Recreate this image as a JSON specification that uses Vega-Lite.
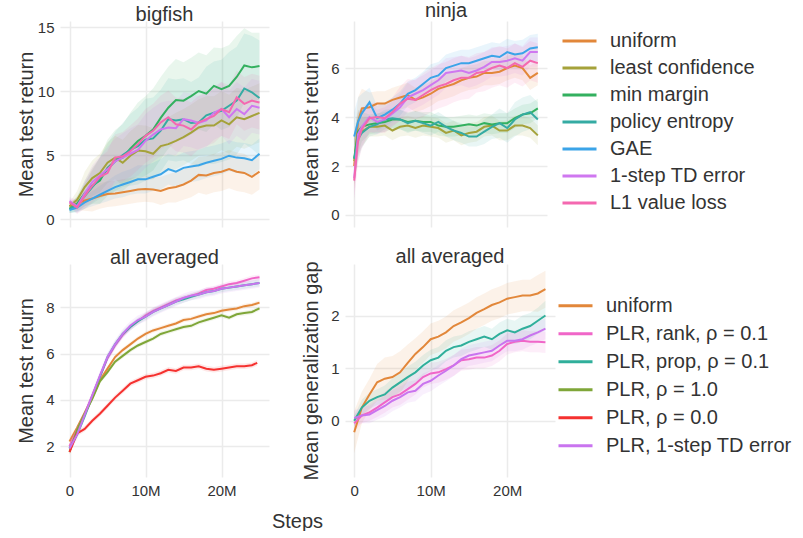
{
"$schema":"https://vega.github.io/schema/vega-lite/v6.json",
"padding":{"left":16,"top":1,"right":0,"bottom":0},
"config":{
 "font":"Liberation Sans",
 "view":{"stroke":null},
 "axis":{"grid":true,"gridColor":"#EBEBEB","gridWidth":1.5,"domain":false,"ticks":false,"labelFontSize":15,"labelColor":"#333","titleFontSize":20,"titleColor":"#333","titleFontWeight":"normal","labelPadding":6},
 "axisY":{"minExtent":24,"maxExtent":24,"titlePadding":0},
 "title":{"fontSize":20,"fontWeight":"normal","color":"#333","baseline":"alphabetic"},
 "legend":{"labelFontSize":20,"labelColor":"#333","symbolType":"stroke","symbolStrokeWidth":3,"symbolSize":1156,"labelOffset":12,"rowPadding":0,"padding":0,"labelLimit":300}
},
"data":{"values":[
{"p":"bigfish","s":"uniform","x":0,"y":1.0,"lo":0.7,"hi":1.3},
{"p":"bigfish","s":"uniform","x":1,"y":1.2,"lo":0.7,"hi":1.7},
{"p":"bigfish","s":"uniform","x":2,"y":1.45,"lo":0.65,"hi":2.25},
{"p":"bigfish","s":"uniform","x":3,"y":1.6,"lo":0.6,"hi":2.6},
{"p":"bigfish","s":"uniform","x":4,"y":1.8,"lo":0.8,"hi":2.8},
{"p":"bigfish","s":"uniform","x":5,"y":1.95,"lo":0.95,"hi":2.95},
{"p":"bigfish","s":"uniform","x":6,"y":2.0,"lo":1.0,"hi":3.0},
{"p":"bigfish","s":"uniform","x":7,"y":2.1,"lo":1.1,"hi":3.1},
{"p":"bigfish","s":"uniform","x":8,"y":2.2,"lo":1.2,"hi":3.2},
{"p":"bigfish","s":"uniform","x":9,"y":2.3,"lo":1.3,"hi":3.3},
{"p":"bigfish","s":"uniform","x":10,"y":2.35,"lo":1.35,"hi":3.35},
{"p":"bigfish","s":"uniform","x":11,"y":2.3,"lo":1.3,"hi":3.3},
{"p":"bigfish","s":"uniform","x":12,"y":2.2,"lo":1.1,"hi":3.3},
{"p":"bigfish","s":"uniform","x":13,"y":2.4,"lo":1.3,"hi":3.5},
{"p":"bigfish","s":"uniform","x":14,"y":2.5,"lo":1.3,"hi":3.7},
{"p":"bigfish","s":"uniform","x":15,"y":2.7,"lo":1.5,"hi":3.9},
{"p":"bigfish","s":"uniform","x":16,"y":3.0,"lo":1.7,"hi":4.3},
{"p":"bigfish","s":"uniform","x":17,"y":3.45,"lo":2.05,"hi":4.85},
{"p":"bigfish","s":"uniform","x":18,"y":3.4,"lo":1.9,"hi":4.9},
{"p":"bigfish","s":"uniform","x":19,"y":3.6,"lo":2.1,"hi":5.1},
{"p":"bigfish","s":"uniform","x":20,"y":3.7,"lo":2.2,"hi":5.2},
{"p":"bigfish","s":"uniform","x":21,"y":3.9,"lo":2.4,"hi":5.4},
{"p":"bigfish","s":"uniform","x":22,"y":3.7,"lo":2.2,"hi":5.2},
{"p":"bigfish","s":"uniform","x":23,"y":3.6,"lo":2.1,"hi":5.1},
{"p":"bigfish","s":"uniform","x":24,"y":3.3,"lo":1.9,"hi":4.7},
{"p":"bigfish","s":"uniform","x":25,"y":3.7,"lo":2.3,"hi":5.1},
{"p":"bigfish","s":"least confidence","x":0,"y":1.0,"lo":0.7,"hi":1.3},
{"p":"bigfish","s":"least confidence","x":1,"y":1.5,"lo":0.8,"hi":2.2},
{"p":"bigfish","s":"least confidence","x":2,"y":2.5,"lo":1.3,"hi":3.7},
{"p":"bigfish","s":"least confidence","x":3,"y":3.2,"lo":1.8,"hi":4.6},
{"p":"bigfish","s":"least confidence","x":4,"y":3.6,"lo":2.1,"hi":5.1},
{"p":"bigfish","s":"least confidence","x":5,"y":4.4,"lo":2.8,"hi":6.0},
{"p":"bigfish","s":"least confidence","x":6,"y":4.8,"lo":3.1,"hi":6.5},
{"p":"bigfish","s":"least confidence","x":7,"y":4.4,"lo":2.6,"hi":6.2},
{"p":"bigfish","s":"least confidence","x":8,"y":4.95,"lo":3.05,"hi":6.85},
{"p":"bigfish","s":"least confidence","x":9,"y":5.35,"lo":3.35,"hi":7.35},
{"p":"bigfish","s":"least confidence","x":10,"y":5.3,"lo":3.3,"hi":7.3},
{"p":"bigfish","s":"least confidence","x":11,"y":5.1,"lo":3.1,"hi":7.1},
{"p":"bigfish","s":"least confidence","x":12,"y":5.7,"lo":3.6,"hi":7.8},
{"p":"bigfish","s":"least confidence","x":13,"y":5.85,"lo":3.75,"hi":7.95},
{"p":"bigfish","s":"least confidence","x":14,"y":6.1,"lo":3.9,"hi":8.3},
{"p":"bigfish","s":"least confidence","x":15,"y":6.4,"lo":4.2,"hi":8.6},
{"p":"bigfish","s":"least confidence","x":16,"y":6.75,"lo":4.55,"hi":8.95},
{"p":"bigfish","s":"least confidence","x":17,"y":7.15,"lo":4.95,"hi":9.35},
{"p":"bigfish","s":"least confidence","x":18,"y":7.3,"lo":5.0,"hi":9.6},
{"p":"bigfish","s":"least confidence","x":19,"y":7.3,"lo":5.0,"hi":9.6},
{"p":"bigfish","s":"least confidence","x":20,"y":7.7,"lo":5.4,"hi":10.0},
{"p":"bigfish","s":"least confidence","x":21,"y":7.4,"lo":5.1,"hi":9.7},
{"p":"bigfish","s":"least confidence","x":22,"y":7.95,"lo":5.65,"hi":10.25},
{"p":"bigfish","s":"least confidence","x":23,"y":7.8,"lo":5.5,"hi":10.1},
{"p":"bigfish","s":"least confidence","x":24,"y":8.05,"lo":5.75,"hi":10.35},
{"p":"bigfish","s":"least confidence","x":25,"y":8.3,"lo":6.0,"hi":10.6},
{"p":"bigfish","s":"min margin","x":0,"y":0.8,"lo":0.5,"hi":1.1},
{"p":"bigfish","s":"min margin","x":1,"y":1.2,"lo":0.6,"hi":1.8},
{"p":"bigfish","s":"min margin","x":2,"y":2.0,"lo":1.0,"hi":3.0},
{"p":"bigfish","s":"min margin","x":3,"y":2.6,"lo":1.2,"hi":4.0},
{"p":"bigfish","s":"min margin","x":4,"y":3.0,"lo":1.2,"hi":4.8},
{"p":"bigfish","s":"min margin","x":5,"y":4.0,"lo":1.8,"hi":6.2},
{"p":"bigfish","s":"min margin","x":6,"y":4.55,"lo":2.15,"hi":6.95},
{"p":"bigfish","s":"min margin","x":7,"y":4.8,"lo":2.2,"hi":7.4},
{"p":"bigfish","s":"min margin","x":8,"y":5.5,"lo":2.7,"hi":8.3},
{"p":"bigfish","s":"min margin","x":9,"y":6.1,"lo":3.1,"hi":9.1},
{"p":"bigfish","s":"min margin","x":10,"y":6.5,"lo":3.4,"hi":9.6},
{"p":"bigfish","s":"min margin","x":11,"y":7.0,"lo":3.8,"hi":10.2},
{"p":"bigfish","s":"min margin","x":12,"y":7.9,"lo":4.7,"hi":11.1},
{"p":"bigfish","s":"min margin","x":13,"y":8.7,"lo":5.5,"hi":11.9},
{"p":"bigfish","s":"min margin","x":14,"y":9.3,"lo":6.1,"hi":12.5},
{"p":"bigfish","s":"min margin","x":15,"y":9.25,"lo":6.25,"hi":12.25},
{"p":"bigfish","s":"min margin","x":16,"y":9.6,"lo":6.6,"hi":12.6},
{"p":"bigfish","s":"min margin","x":17,"y":10.0,"lo":7.0,"hi":13.0},
{"p":"bigfish","s":"min margin","x":18,"y":9.8,"lo":6.8,"hi":12.8},
{"p":"bigfish","s":"min margin","x":19,"y":10.4,"lo":7.4,"hi":13.4},
{"p":"bigfish","s":"min margin","x":20,"y":10.15,"lo":6.95,"hi":13.35},
{"p":"bigfish","s":"min margin","x":21,"y":10.4,"lo":7.2,"hi":13.6},
{"p":"bigfish","s":"min margin","x":22,"y":11.1,"lo":7.9,"hi":14.3},
{"p":"bigfish","s":"min margin","x":23,"y":12.0,"lo":9.1,"hi":14.9},
{"p":"bigfish","s":"min margin","x":24,"y":11.85,"lo":9.15,"hi":14.55},
{"p":"bigfish","s":"min margin","x":25,"y":11.95,"lo":9.35,"hi":14.55},
{"p":"bigfish","s":"policy entropy","x":0,"y":0.8,"lo":0.5,"hi":1.1},
{"p":"bigfish","s":"policy entropy","x":1,"y":1.1,"lo":0.5,"hi":1.7},
{"p":"bigfish","s":"policy entropy","x":2,"y":1.8,"lo":0.8,"hi":2.8},
{"p":"bigfish","s":"policy entropy","x":3,"y":2.5,"lo":1.2,"hi":3.8},
{"p":"bigfish","s":"policy entropy","x":4,"y":3.2,"lo":1.6,"hi":4.8},
{"p":"bigfish","s":"policy entropy","x":5,"y":3.9,"lo":1.9,"hi":5.9},
{"p":"bigfish","s":"policy entropy","x":6,"y":4.5,"lo":2.2,"hi":6.8},
{"p":"bigfish","s":"policy entropy","x":7,"y":5.0,"lo":2.5,"hi":7.5},
{"p":"bigfish","s":"policy entropy","x":8,"y":5.4,"lo":2.6,"hi":8.2},
{"p":"bigfish","s":"policy entropy","x":9,"y":5.7,"lo":2.7,"hi":8.7},
{"p":"bigfish","s":"policy entropy","x":10,"y":6.2,"lo":3.0,"hi":9.4},
{"p":"bigfish","s":"policy entropy","x":11,"y":6.3,"lo":3.1,"hi":9.5},
{"p":"bigfish","s":"policy entropy","x":12,"y":6.9,"lo":3.7,"hi":10.1},
{"p":"bigfish","s":"policy entropy","x":13,"y":7.8,"lo":4.6,"hi":11.0},
{"p":"bigfish","s":"policy entropy","x":14,"y":7.7,"lo":4.5,"hi":10.9},
{"p":"bigfish","s":"policy entropy","x":15,"y":7.8,"lo":4.6,"hi":11.0},
{"p":"bigfish","s":"policy entropy","x":16,"y":7.5,"lo":4.3,"hi":10.7},
{"p":"bigfish","s":"policy entropy","x":17,"y":7.55,"lo":4.05,"hi":11.05},
{"p":"bigfish","s":"policy entropy","x":18,"y":8.1,"lo":4.3,"hi":11.9},
{"p":"bigfish","s":"policy entropy","x":19,"y":8.3,"lo":4.3,"hi":12.3},
{"p":"bigfish","s":"policy entropy","x":20,"y":8.45,"lo":4.45,"hi":12.45},
{"p":"bigfish","s":"policy entropy","x":21,"y":8.85,"lo":4.65,"hi":13.05},
{"p":"bigfish","s":"policy entropy","x":22,"y":9.25,"lo":5.05,"hi":13.45},
{"p":"bigfish","s":"policy entropy","x":23,"y":10.2,"lo":5.9,"hi":14.5},
{"p":"bigfish","s":"policy entropy","x":24,"y":9.9,"lo":5.5,"hi":14.3},
{"p":"bigfish","s":"policy entropy","x":25,"y":9.45,"lo":4.95,"hi":13.95},
{"p":"bigfish","s":"GAE","x":0,"y":0.7,"lo":0.5,"hi":0.9},
{"p":"bigfish","s":"GAE","x":1,"y":0.9,"lo":0.6,"hi":1.2},
{"p":"bigfish","s":"GAE","x":2,"y":1.3,"lo":0.8,"hi":1.8},
{"p":"bigfish","s":"GAE","x":3,"y":1.6,"lo":1.0,"hi":2.2},
{"p":"bigfish","s":"GAE","x":4,"y":1.9,"lo":1.2,"hi":2.6},
{"p":"bigfish","s":"GAE","x":5,"y":2.2,"lo":1.4,"hi":3.0},
{"p":"bigfish","s":"GAE","x":6,"y":2.5,"lo":1.6,"hi":3.4},
{"p":"bigfish","s":"GAE","x":7,"y":2.7,"lo":1.7,"hi":3.7},
{"p":"bigfish","s":"GAE","x":8,"y":2.9,"lo":1.9,"hi":3.9},
{"p":"bigfish","s":"GAE","x":9,"y":3.1,"lo":2.0,"hi":4.2},
{"p":"bigfish","s":"GAE","x":10,"y":3.1,"lo":2.0,"hi":4.2},
{"p":"bigfish","s":"GAE","x":11,"y":3.3,"lo":2.2,"hi":4.4},
{"p":"bigfish","s":"GAE","x":12,"y":3.5,"lo":2.3,"hi":4.7},
{"p":"bigfish","s":"GAE","x":13,"y":3.9,"lo":2.7,"hi":5.1},
{"p":"bigfish","s":"GAE","x":14,"y":3.7,"lo":2.5,"hi":4.9},
{"p":"bigfish","s":"GAE","x":15,"y":4.0,"lo":2.8,"hi":5.2},
{"p":"bigfish","s":"GAE","x":16,"y":4.1,"lo":2.9,"hi":5.3},
{"p":"bigfish","s":"GAE","x":17,"y":4.2,"lo":3.0,"hi":5.4},
{"p":"bigfish","s":"GAE","x":18,"y":4.4,"lo":3.2,"hi":5.6},
{"p":"bigfish","s":"GAE","x":19,"y":4.55,"lo":3.35,"hi":5.75},
{"p":"bigfish","s":"GAE","x":20,"y":4.7,"lo":3.5,"hi":5.9},
{"p":"bigfish","s":"GAE","x":21,"y":4.95,"lo":3.75,"hi":6.15},
{"p":"bigfish","s":"GAE","x":22,"y":4.8,"lo":3.6,"hi":6.0},
{"p":"bigfish","s":"GAE","x":23,"y":4.75,"lo":3.55,"hi":5.95},
{"p":"bigfish","s":"GAE","x":24,"y":4.6,"lo":3.4,"hi":5.8},
{"p":"bigfish","s":"GAE","x":25,"y":5.1,"lo":3.9,"hi":6.3},
{"p":"bigfish","s":"1-step TD error","x":0,"y":1.4,"lo":1.1,"hi":1.7},
{"p":"bigfish","s":"1-step TD error","x":1,"y":1.0,"lo":0.5,"hi":1.5},
{"p":"bigfish","s":"1-step TD error","x":2,"y":2.0,"lo":1.0,"hi":3.0},
{"p":"bigfish","s":"1-step TD error","x":3,"y":2.9,"lo":1.6,"hi":4.2},
{"p":"bigfish","s":"1-step TD error","x":4,"y":3.4,"lo":1.9,"hi":4.9},
{"p":"bigfish","s":"1-step TD error","x":5,"y":3.9,"lo":2.2,"hi":5.6},
{"p":"bigfish","s":"1-step TD error","x":6,"y":4.5,"lo":2.7,"hi":6.3},
{"p":"bigfish","s":"1-step TD error","x":7,"y":4.8,"lo":2.9,"hi":6.7},
{"p":"bigfish","s":"1-step TD error","x":8,"y":5.1,"lo":3.1,"hi":7.1},
{"p":"bigfish","s":"1-step TD error","x":9,"y":5.4,"lo":3.4,"hi":7.4},
{"p":"bigfish","s":"1-step TD error","x":10,"y":6.1,"lo":4.0,"hi":8.2},
{"p":"bigfish","s":"1-step TD error","x":11,"y":6.6,"lo":4.5,"hi":8.7},
{"p":"bigfish","s":"1-step TD error","x":12,"y":7.0,"lo":4.9,"hi":9.1},
{"p":"bigfish","s":"1-step TD error","x":13,"y":7.15,"lo":5.05,"hi":9.25},
{"p":"bigfish","s":"1-step TD error","x":14,"y":7.1,"lo":5.0,"hi":9.2},
{"p":"bigfish","s":"1-step TD error","x":15,"y":7.8,"lo":5.7,"hi":9.9},
{"p":"bigfish","s":"1-step TD error","x":16,"y":7.7,"lo":5.6,"hi":9.8},
{"p":"bigfish","s":"1-step TD error","x":17,"y":7.5,"lo":5.4,"hi":9.6},
{"p":"bigfish","s":"1-step TD error","x":18,"y":7.7,"lo":5.6,"hi":9.8},
{"p":"bigfish","s":"1-step TD error","x":19,"y":8.3,"lo":6.2,"hi":10.4},
{"p":"bigfish","s":"1-step TD error","x":20,"y":8.6,"lo":6.5,"hi":10.7},
{"p":"bigfish","s":"1-step TD error","x":21,"y":7.95,"lo":5.85,"hi":10.05},
{"p":"bigfish","s":"1-step TD error","x":22,"y":8.6,"lo":6.5,"hi":10.7},
{"p":"bigfish","s":"1-step TD error","x":23,"y":8.2,"lo":6.1,"hi":10.3},
{"p":"bigfish","s":"1-step TD error","x":24,"y":8.85,"lo":6.75,"hi":10.95},
{"p":"bigfish","s":"1-step TD error","x":25,"y":8.7,"lo":6.6,"hi":10.8},
{"p":"bigfish","s":"L1 value loss","x":0,"y":1.3,"lo":1.0,"hi":1.6},
{"p":"bigfish","s":"L1 value loss","x":1,"y":0.9,"lo":0.4,"hi":1.4},
{"p":"bigfish","s":"L1 value loss","x":2,"y":1.8,"lo":0.8,"hi":2.8},
{"p":"bigfish","s":"L1 value loss","x":3,"y":2.6,"lo":1.3,"hi":3.9},
{"p":"bigfish","s":"L1 value loss","x":4,"y":3.3,"lo":1.8,"hi":4.8},
{"p":"bigfish","s":"L1 value loss","x":5,"y":3.6,"lo":1.9,"hi":5.3},
{"p":"bigfish","s":"L1 value loss","x":6,"y":4.8,"lo":3.0,"hi":6.6},
{"p":"bigfish","s":"L1 value loss","x":7,"y":4.9,"lo":3.0,"hi":6.8},
{"p":"bigfish","s":"L1 value loss","x":8,"y":5.3,"lo":3.3,"hi":7.3},
{"p":"bigfish","s":"L1 value loss","x":9,"y":5.85,"lo":3.85,"hi":7.85},
{"p":"bigfish","s":"L1 value loss","x":10,"y":6.5,"lo":4.4,"hi":8.6},
{"p":"bigfish","s":"L1 value loss","x":11,"y":6.9,"lo":4.8,"hi":9.0},
{"p":"bigfish","s":"L1 value loss","x":12,"y":7.55,"lo":5.45,"hi":9.65},
{"p":"bigfish","s":"L1 value loss","x":13,"y":7.95,"lo":5.85,"hi":10.05},
{"p":"bigfish","s":"L1 value loss","x":14,"y":7.4,"lo":5.3,"hi":9.5},
{"p":"bigfish","s":"L1 value loss","x":15,"y":7.3,"lo":5.2,"hi":9.4},
{"p":"bigfish","s":"L1 value loss","x":16,"y":7.0,"lo":4.9,"hi":9.1},
{"p":"bigfish","s":"L1 value loss","x":17,"y":7.55,"lo":5.45,"hi":9.65},
{"p":"bigfish","s":"L1 value loss","x":18,"y":7.8,"lo":5.7,"hi":9.9},
{"p":"bigfish","s":"L1 value loss","x":19,"y":8.05,"lo":5.95,"hi":10.15},
{"p":"bigfish","s":"L1 value loss","x":20,"y":8.6,"lo":6.5,"hi":10.7},
{"p":"bigfish","s":"L1 value loss","x":21,"y":8.35,"lo":6.25,"hi":10.45},
{"p":"bigfish","s":"L1 value loss","x":22,"y":9.5,"lo":7.4,"hi":11.6},
{"p":"bigfish","s":"L1 value loss","x":23,"y":9.0,"lo":6.9,"hi":11.1},
{"p":"bigfish","s":"L1 value loss","x":24,"y":9.25,"lo":7.15,"hi":11.35},
{"p":"bigfish","s":"L1 value loss","x":25,"y":9.1,"lo":7.0,"hi":11.2},
{"p":"ninja","s":"uniform","x":0,"y":2.0,"lo":1.0,"hi":3.0},
{"p":"ninja","s":"uniform","x":0.5,"y":3.8,"lo":2.8,"hi":4.8},
{"p":"ninja","s":"uniform","x":1,"y":4.35,"lo":3.55,"hi":5.15},
{"p":"ninja","s":"uniform","x":2,"y":4.4,"lo":3.8,"hi":5.0},
{"p":"ninja","s":"uniform","x":3,"y":4.55,"lo":4.05,"hi":5.05},
{"p":"ninja","s":"uniform","x":4,"y":4.55,"lo":4.05,"hi":5.05},
{"p":"ninja","s":"uniform","x":5,"y":4.7,"lo":4.2,"hi":5.2},
{"p":"ninja","s":"uniform","x":6,"y":4.8,"lo":4.3,"hi":5.3},
{"p":"ninja","s":"uniform","x":7,"y":4.9,"lo":4.4,"hi":5.4},
{"p":"ninja","s":"uniform","x":8,"y":4.7,"lo":4.2,"hi":5.2},
{"p":"ninja","s":"uniform","x":9,"y":4.8,"lo":4.3,"hi":5.3},
{"p":"ninja","s":"uniform","x":10,"y":4.95,"lo":4.45,"hi":5.45},
{"p":"ninja","s":"uniform","x":11,"y":5.15,"lo":4.65,"hi":5.65},
{"p":"ninja","s":"uniform","x":12,"y":5.25,"lo":4.75,"hi":5.75},
{"p":"ninja","s":"uniform","x":13,"y":5.35,"lo":4.85,"hi":5.85},
{"p":"ninja","s":"uniform","x":14,"y":5.5,"lo":5.0,"hi":6.0},
{"p":"ninja","s":"uniform","x":15,"y":5.6,"lo":5.1,"hi":6.1},
{"p":"ninja","s":"uniform","x":16,"y":5.65,"lo":5.15,"hi":6.15},
{"p":"ninja","s":"uniform","x":17,"y":5.8,"lo":5.3,"hi":6.3},
{"p":"ninja","s":"uniform","x":18,"y":5.8,"lo":5.3,"hi":6.3},
{"p":"ninja","s":"uniform","x":19,"y":5.85,"lo":5.35,"hi":6.35},
{"p":"ninja","s":"uniform","x":20,"y":6.0,"lo":5.5,"hi":6.5},
{"p":"ninja","s":"uniform","x":21,"y":6.1,"lo":5.6,"hi":6.6},
{"p":"ninja","s":"uniform","x":22,"y":6.0,"lo":5.5,"hi":6.5},
{"p":"ninja","s":"uniform","x":23,"y":5.6,"lo":5.1,"hi":6.1},
{"p":"ninja","s":"uniform","x":24,"y":5.8,"lo":5.3,"hi":6.3},
{"p":"ninja","s":"least confidence","x":0,"y":2.2,"lo":1.2,"hi":3.2},
{"p":"ninja","s":"least confidence","x":0.5,"y":3.3,"lo":2.4,"hi":4.2},
{"p":"ninja","s":"least confidence","x":1,"y":3.4,"lo":2.8,"hi":4.0},
{"p":"ninja","s":"least confidence","x":2,"y":3.6,"lo":3.2,"hi":4.0},
{"p":"ninja","s":"least confidence","x":3,"y":3.6,"lo":3.2,"hi":4.0},
{"p":"ninja","s":"least confidence","x":4,"y":3.65,"lo":3.25,"hi":4.05},
{"p":"ninja","s":"least confidence","x":5,"y":3.45,"lo":3.05,"hi":3.85},
{"p":"ninja","s":"least confidence","x":6,"y":3.6,"lo":3.2,"hi":4.0},
{"p":"ninja","s":"least confidence","x":7,"y":3.65,"lo":3.25,"hi":4.05},
{"p":"ninja","s":"least confidence","x":8,"y":3.55,"lo":3.15,"hi":3.95},
{"p":"ninja","s":"least confidence","x":9,"y":3.65,"lo":3.25,"hi":4.05},
{"p":"ninja","s":"least confidence","x":10,"y":3.6,"lo":3.2,"hi":4.0},
{"p":"ninja","s":"least confidence","x":11,"y":3.55,"lo":3.15,"hi":3.95},
{"p":"ninja","s":"least confidence","x":12,"y":3.35,"lo":2.95,"hi":3.75},
{"p":"ninja","s":"least confidence","x":13,"y":3.45,"lo":3.05,"hi":3.85},
{"p":"ninja","s":"least confidence","x":14,"y":3.25,"lo":2.85,"hi":3.65},
{"p":"ninja","s":"least confidence","x":15,"y":3.35,"lo":2.95,"hi":3.75},
{"p":"ninja","s":"least confidence","x":16,"y":3.4,"lo":3.0,"hi":3.8},
{"p":"ninja","s":"least confidence","x":17,"y":3.6,"lo":3.2,"hi":4.0},
{"p":"ninja","s":"least confidence","x":18,"y":3.65,"lo":3.25,"hi":4.05},
{"p":"ninja","s":"least confidence","x":19,"y":3.45,"lo":3.05,"hi":3.85},
{"p":"ninja","s":"least confidence","x":20,"y":3.45,"lo":3.05,"hi":3.85},
{"p":"ninja","s":"least confidence","x":21,"y":3.65,"lo":3.25,"hi":4.05},
{"p":"ninja","s":"least confidence","x":22,"y":3.65,"lo":3.25,"hi":4.05},
{"p":"ninja","s":"least confidence","x":23,"y":3.55,"lo":3.15,"hi":3.95},
{"p":"ninja","s":"least confidence","x":24,"y":3.25,"lo":2.85,"hi":3.65},
{"p":"ninja","s":"min margin","x":0,"y":2.3,"lo":1.3,"hi":3.3},
{"p":"ninja","s":"min margin","x":0.5,"y":3.4,"lo":2.5,"hi":4.3},
{"p":"ninja","s":"min margin","x":1,"y":3.6,"lo":3.0,"hi":4.2},
{"p":"ninja","s":"min margin","x":2,"y":3.7,"lo":3.3,"hi":4.1},
{"p":"ninja","s":"min margin","x":3,"y":3.75,"lo":3.35,"hi":4.15},
{"p":"ninja","s":"min margin","x":4,"y":3.8,"lo":3.4,"hi":4.2},
{"p":"ninja","s":"min margin","x":5,"y":3.9,"lo":3.5,"hi":4.3},
{"p":"ninja","s":"min margin","x":6,"y":3.9,"lo":3.5,"hi":4.3},
{"p":"ninja","s":"min margin","x":7,"y":3.8,"lo":3.4,"hi":4.2},
{"p":"ninja","s":"min margin","x":8,"y":3.85,"lo":3.45,"hi":4.25},
{"p":"ninja","s":"min margin","x":9,"y":3.8,"lo":3.4,"hi":4.2},
{"p":"ninja","s":"min margin","x":10,"y":3.8,"lo":3.4,"hi":4.2},
{"p":"ninja","s":"min margin","x":11,"y":3.65,"lo":3.25,"hi":4.05},
{"p":"ninja","s":"min margin","x":12,"y":3.6,"lo":3.2,"hi":4.0},
{"p":"ninja","s":"min margin","x":13,"y":3.6,"lo":3.2,"hi":4.0},
{"p":"ninja","s":"min margin","x":14,"y":3.65,"lo":3.25,"hi":4.05},
{"p":"ninja","s":"min margin","x":15,"y":3.7,"lo":3.3,"hi":4.1},
{"p":"ninja","s":"min margin","x":16,"y":3.65,"lo":3.25,"hi":4.05},
{"p":"ninja","s":"min margin","x":17,"y":3.75,"lo":3.35,"hi":4.15},
{"p":"ninja","s":"min margin","x":18,"y":3.7,"lo":3.3,"hi":4.1},
{"p":"ninja","s":"min margin","x":19,"y":3.75,"lo":3.35,"hi":4.15},
{"p":"ninja","s":"min margin","x":20,"y":3.75,"lo":3.35,"hi":4.15},
{"p":"ninja","s":"min margin","x":21,"y":3.95,"lo":3.55,"hi":4.35},
{"p":"ninja","s":"min margin","x":22,"y":4.1,"lo":3.7,"hi":4.5},
{"p":"ninja","s":"min margin","x":23,"y":4.15,"lo":3.75,"hi":4.55},
{"p":"ninja","s":"min margin","x":24,"y":4.35,"lo":3.95,"hi":4.75},
{"p":"ninja","s":"policy entropy","x":0,"y":2.3,"lo":1.3,"hi":3.3},
{"p":"ninja","s":"policy entropy","x":0.5,"y":3.1,"lo":2.2,"hi":4.0},
{"p":"ninja","s":"policy entropy","x":1,"y":3.35,"lo":2.75,"hi":3.95},
{"p":"ninja","s":"policy entropy","x":2,"y":3.6,"lo":3.2,"hi":4.0},
{"p":"ninja","s":"policy entropy","x":3,"y":3.7,"lo":3.3,"hi":4.1},
{"p":"ninja","s":"policy entropy","x":4,"y":3.9,"lo":3.5,"hi":4.3},
{"p":"ninja","s":"policy entropy","x":5,"y":3.95,"lo":3.55,"hi":4.35},
{"p":"ninja","s":"policy entropy","x":6,"y":3.9,"lo":3.5,"hi":4.3},
{"p":"ninja","s":"policy entropy","x":7,"y":3.75,"lo":3.35,"hi":4.15},
{"p":"ninja","s":"policy entropy","x":8,"y":3.85,"lo":3.45,"hi":4.25},
{"p":"ninja","s":"policy entropy","x":9,"y":3.75,"lo":3.35,"hi":4.15},
{"p":"ninja","s":"policy entropy","x":10,"y":3.65,"lo":3.25,"hi":4.05},
{"p":"ninja","s":"policy entropy","x":11,"y":3.8,"lo":3.4,"hi":4.2},
{"p":"ninja","s":"policy entropy","x":12,"y":3.6,"lo":3.2,"hi":4.0},
{"p":"ninja","s":"policy entropy","x":13,"y":3.45,"lo":3.05,"hi":3.85},
{"p":"ninja","s":"policy entropy","x":14,"y":3.35,"lo":2.95,"hi":3.75},
{"p":"ninja","s":"policy entropy","x":15,"y":3.2,"lo":2.8,"hi":3.6},
{"p":"ninja","s":"policy entropy","x":16,"y":3.2,"lo":2.8,"hi":3.6},
{"p":"ninja","s":"policy entropy","x":17,"y":3.4,"lo":2.9,"hi":3.9},
{"p":"ninja","s":"policy entropy","x":18,"y":3.6,"lo":3.1,"hi":4.1},
{"p":"ninja","s":"policy entropy","x":19,"y":3.75,"lo":3.15,"hi":4.35},
{"p":"ninja","s":"policy entropy","x":20,"y":3.55,"lo":2.95,"hi":4.15},
{"p":"ninja","s":"policy entropy","x":21,"y":3.9,"lo":3.2,"hi":4.6},
{"p":"ninja","s":"policy entropy","x":22,"y":4.1,"lo":3.4,"hi":4.8},
{"p":"ninja","s":"policy entropy","x":23,"y":4.2,"lo":3.5,"hi":4.9},
{"p":"ninja","s":"policy entropy","x":24,"y":3.9,"lo":3.2,"hi":4.6},
{"p":"ninja","s":"GAE","x":0,"y":3.2,"lo":2.2,"hi":4.2},
{"p":"ninja","s":"GAE","x":0.5,"y":3.8,"lo":2.8,"hi":4.8},
{"p":"ninja","s":"GAE","x":1,"y":4.15,"lo":3.35,"hi":4.95},
{"p":"ninja","s":"GAE","x":2,"y":4.6,"lo":4.0,"hi":5.2},
{"p":"ninja","s":"GAE","x":3,"y":3.95,"lo":3.45,"hi":4.45},
{"p":"ninja","s":"GAE","x":4,"y":4.1,"lo":3.6,"hi":4.6},
{"p":"ninja","s":"GAE","x":5,"y":4.3,"lo":3.8,"hi":4.8},
{"p":"ninja","s":"GAE","x":6,"y":4.55,"lo":4.05,"hi":5.05},
{"p":"ninja","s":"GAE","x":7,"y":4.95,"lo":4.45,"hi":5.45},
{"p":"ninja","s":"GAE","x":8,"y":5.1,"lo":4.6,"hi":5.6},
{"p":"ninja","s":"GAE","x":9,"y":5.35,"lo":4.85,"hi":5.85},
{"p":"ninja","s":"GAE","x":10,"y":5.6,"lo":5.05,"hi":6.15},
{"p":"ninja","s":"GAE","x":11,"y":5.7,"lo":5.15,"hi":6.25},
{"p":"ninja","s":"GAE","x":12,"y":6.0,"lo":5.45,"hi":6.55},
{"p":"ninja","s":"GAE","x":13,"y":6.1,"lo":5.55,"hi":6.65},
{"p":"ninja","s":"GAE","x":14,"y":6.2,"lo":5.65,"hi":6.75},
{"p":"ninja","s":"GAE","x":15,"y":6.2,"lo":5.65,"hi":6.75},
{"p":"ninja","s":"GAE","x":16,"y":6.3,"lo":5.75,"hi":6.85},
{"p":"ninja","s":"GAE","x":17,"y":6.4,"lo":5.85,"hi":6.95},
{"p":"ninja","s":"GAE","x":18,"y":6.5,"lo":5.95,"hi":7.05},
{"p":"ninja","s":"GAE","x":19,"y":6.45,"lo":5.9,"hi":7.0},
{"p":"ninja","s":"GAE","x":20,"y":6.65,"lo":6.1,"hi":7.2},
{"p":"ninja","s":"GAE","x":21,"y":6.55,"lo":6.0,"hi":7.1},
{"p":"ninja","s":"GAE","x":22,"y":6.6,"lo":6.05,"hi":7.15},
{"p":"ninja","s":"GAE","x":23,"y":6.8,"lo":6.25,"hi":7.35},
{"p":"ninja","s":"GAE","x":24,"y":6.85,"lo":6.3,"hi":7.4},
{"p":"ninja","s":"1-step TD error","x":0,"y":1.5,"lo":0.7,"hi":2.3},
{"p":"ninja","s":"1-step TD error","x":0.5,"y":3.3,"lo":2.4,"hi":4.2},
{"p":"ninja","s":"1-step TD error","x":1,"y":3.6,"lo":2.8,"hi":4.4},
{"p":"ninja","s":"1-step TD error","x":2,"y":4.0,"lo":3.4,"hi":4.6},
{"p":"ninja","s":"1-step TD error","x":3,"y":3.8,"lo":3.3,"hi":4.3},
{"p":"ninja","s":"1-step TD error","x":4,"y":3.9,"lo":3.4,"hi":4.4},
{"p":"ninja","s":"1-step TD error","x":5,"y":4.15,"lo":3.65,"hi":4.65},
{"p":"ninja","s":"1-step TD error","x":6,"y":4.4,"lo":3.85,"hi":4.95},
{"p":"ninja","s":"1-step TD error","x":7,"y":4.8,"lo":4.2,"hi":5.4},
{"p":"ninja","s":"1-step TD error","x":8,"y":4.95,"lo":4.35,"hi":5.55},
{"p":"ninja","s":"1-step TD error","x":9,"y":5.1,"lo":4.5,"hi":5.7},
{"p":"ninja","s":"1-step TD error","x":10,"y":5.3,"lo":4.7,"hi":5.9},
{"p":"ninja","s":"1-step TD error","x":11,"y":5.5,"lo":4.9,"hi":6.1},
{"p":"ninja","s":"1-step TD error","x":12,"y":5.8,"lo":5.2,"hi":6.4},
{"p":"ninja","s":"1-step TD error","x":13,"y":5.85,"lo":5.25,"hi":6.45},
{"p":"ninja","s":"1-step TD error","x":14,"y":5.9,"lo":5.3,"hi":6.5},
{"p":"ninja","s":"1-step TD error","x":15,"y":5.8,"lo":5.2,"hi":6.4},
{"p":"ninja","s":"1-step TD error","x":16,"y":5.9,"lo":5.3,"hi":6.5},
{"p":"ninja","s":"1-step TD error","x":17,"y":6.05,"lo":5.45,"hi":6.65},
{"p":"ninja","s":"1-step TD error","x":18,"y":6.25,"lo":5.65,"hi":6.85},
{"p":"ninja","s":"1-step TD error","x":19,"y":6.25,"lo":5.65,"hi":6.85},
{"p":"ninja","s":"1-step TD error","x":20,"y":6.3,"lo":5.7,"hi":6.9},
{"p":"ninja","s":"1-step TD error","x":21,"y":6.4,"lo":5.8,"hi":7.0},
{"p":"ninja","s":"1-step TD error","x":22,"y":6.3,"lo":5.7,"hi":6.9},
{"p":"ninja","s":"1-step TD error","x":23,"y":6.65,"lo":6.05,"hi":7.25},
{"p":"ninja","s":"1-step TD error","x":24,"y":6.65,"lo":6.05,"hi":7.25},
{"p":"ninja","s":"L1 value loss","x":0,"y":1.4,"lo":0.6,"hi":2.2},
{"p":"ninja","s":"L1 value loss","x":0.5,"y":3.0,"lo":2.1,"hi":3.9},
{"p":"ninja","s":"L1 value loss","x":1,"y":3.5,"lo":2.7,"hi":4.3},
{"p":"ninja","s":"L1 value loss","x":2,"y":3.95,"lo":3.35,"hi":4.55},
{"p":"ninja","s":"L1 value loss","x":3,"y":4.0,"lo":3.4,"hi":4.6},
{"p":"ninja","s":"L1 value loss","x":4,"y":3.95,"lo":3.35,"hi":4.55},
{"p":"ninja","s":"L1 value loss","x":5,"y":4.2,"lo":3.6,"hi":4.8},
{"p":"ninja","s":"L1 value loss","x":6,"y":4.55,"lo":3.85,"hi":5.25},
{"p":"ninja","s":"L1 value loss","x":7,"y":4.75,"lo":3.95,"hi":5.55},
{"p":"ninja","s":"L1 value loss","x":8,"y":4.7,"lo":3.9,"hi":5.5},
{"p":"ninja","s":"L1 value loss","x":9,"y":4.9,"lo":4.0,"hi":5.8},
{"p":"ninja","s":"L1 value loss","x":10,"y":5.1,"lo":4.2,"hi":6.0},
{"p":"ninja","s":"L1 value loss","x":11,"y":5.25,"lo":4.35,"hi":6.15},
{"p":"ninja","s":"L1 value loss","x":12,"y":5.35,"lo":4.45,"hi":6.25},
{"p":"ninja","s":"L1 value loss","x":13,"y":5.5,"lo":4.6,"hi":6.4},
{"p":"ninja","s":"L1 value loss","x":14,"y":5.6,"lo":4.7,"hi":6.5},
{"p":"ninja","s":"L1 value loss","x":15,"y":5.6,"lo":4.75,"hi":6.45},
{"p":"ninja","s":"L1 value loss","x":16,"y":5.8,"lo":5.0,"hi":6.6},
{"p":"ninja","s":"L1 value loss","x":17,"y":5.85,"lo":5.05,"hi":6.65},
{"p":"ninja","s":"L1 value loss","x":18,"y":6.0,"lo":5.2,"hi":6.8},
{"p":"ninja","s":"L1 value loss","x":19,"y":6.1,"lo":5.3,"hi":6.9},
{"p":"ninja","s":"L1 value loss","x":20,"y":6.0,"lo":5.2,"hi":6.8},
{"p":"ninja","s":"L1 value loss","x":21,"y":6.2,"lo":5.4,"hi":7.0},
{"p":"ninja","s":"L1 value loss","x":22,"y":6.05,"lo":5.25,"hi":6.85},
{"p":"ninja","s":"L1 value loss","x":23,"y":6.3,"lo":5.5,"hi":7.1},
{"p":"ninja","s":"L1 value loss","x":24,"y":6.2,"lo":5.4,"hi":7.0},
{"p":"avg","s":"uniform","x":0,"y":2.2,"lo":2.05,"hi":2.35},
{"p":"avg","s":"uniform","x":1,"y":2.8,"lo":2.7,"hi":2.9},
{"p":"avg","s":"uniform","x":2,"y":3.45,"lo":3.35,"hi":3.55},
{"p":"avg","s":"uniform","x":3,"y":4.1,"lo":4.0,"hi":4.2},
{"p":"avg","s":"uniform","x":4,"y":4.85,"lo":4.75,"hi":4.95},
{"p":"avg","s":"uniform","x":5,"y":5.35,"lo":5.25,"hi":5.45},
{"p":"avg","s":"uniform","x":6,"y":5.85,"lo":5.75,"hi":5.95},
{"p":"avg","s":"uniform","x":7,"y":6.15,"lo":6.05,"hi":6.25},
{"p":"avg","s":"uniform","x":8,"y":6.4,"lo":6.3,"hi":6.5},
{"p":"avg","s":"uniform","x":9,"y":6.65,"lo":6.55,"hi":6.75},
{"p":"avg","s":"uniform","x":10,"y":6.85,"lo":6.75,"hi":6.95},
{"p":"avg","s":"uniform","x":11,"y":7.0,"lo":6.9,"hi":7.1},
{"p":"avg","s":"uniform","x":12,"y":7.1,"lo":7.0,"hi":7.2},
{"p":"avg","s":"uniform","x":13,"y":7.2,"lo":7.1,"hi":7.3},
{"p":"avg","s":"uniform","x":14,"y":7.3,"lo":7.2,"hi":7.4},
{"p":"avg","s":"uniform","x":15,"y":7.45,"lo":7.35,"hi":7.55},
{"p":"avg","s":"uniform","x":16,"y":7.5,"lo":7.4,"hi":7.6},
{"p":"avg","s":"uniform","x":17,"y":7.6,"lo":7.5,"hi":7.7},
{"p":"avg","s":"uniform","x":18,"y":7.7,"lo":7.6,"hi":7.8},
{"p":"avg","s":"uniform","x":19,"y":7.75,"lo":7.65,"hi":7.85},
{"p":"avg","s":"uniform","x":20,"y":7.85,"lo":7.75,"hi":7.95},
{"p":"avg","s":"uniform","x":21,"y":7.9,"lo":7.8,"hi":8.0},
{"p":"avg","s":"uniform","x":22,"y":7.95,"lo":7.85,"hi":8.05},
{"p":"avg","s":"uniform","x":23,"y":8.05,"lo":7.95,"hi":8.15},
{"p":"avg","s":"uniform","x":24,"y":8.1,"lo":8.0,"hi":8.2},
{"p":"avg","s":"uniform","x":25,"y":8.2,"lo":8.1,"hi":8.3},
{"p":"avg","s":"PLR, rank, ρ = 0.1","x":0,"y":2.0,"lo":1.88,"hi":2.12},
{"p":"avg","s":"PLR, rank, ρ = 0.1","x":1,"y":2.7,"lo":2.58,"hi":2.82},
{"p":"avg","s":"PLR, rank, ρ = 0.1","x":2,"y":3.4,"lo":3.28,"hi":3.52},
{"p":"avg","s":"PLR, rank, ρ = 0.1","x":3,"y":4.2,"lo":4.08,"hi":4.32},
{"p":"avg","s":"PLR, rank, ρ = 0.1","x":4,"y":5.0,"lo":4.88,"hi":5.12},
{"p":"avg","s":"PLR, rank, ρ = 0.1","x":5,"y":5.8,"lo":5.68,"hi":5.92},
{"p":"avg","s":"PLR, rank, ρ = 0.1","x":6,"y":6.35,"lo":6.23,"hi":6.47},
{"p":"avg","s":"PLR, rank, ρ = 0.1","x":7,"y":6.8,"lo":6.68,"hi":6.92},
{"p":"avg","s":"PLR, rank, ρ = 0.1","x":8,"y":7.15,"lo":7.03,"hi":7.27},
{"p":"avg","s":"PLR, rank, ρ = 0.1","x":9,"y":7.4,"lo":7.28,"hi":7.52},
{"p":"avg","s":"PLR, rank, ρ = 0.1","x":10,"y":7.65,"lo":7.53,"hi":7.77},
{"p":"avg","s":"PLR, rank, ρ = 0.1","x":11,"y":7.85,"lo":7.73,"hi":7.97},
{"p":"avg","s":"PLR, rank, ρ = 0.1","x":12,"y":8.0,"lo":7.88,"hi":8.12},
{"p":"avg","s":"PLR, rank, ρ = 0.1","x":13,"y":8.15,"lo":8.03,"hi":8.27},
{"p":"avg","s":"PLR, rank, ρ = 0.1","x":14,"y":8.3,"lo":8.18,"hi":8.42},
{"p":"avg","s":"PLR, rank, ρ = 0.1","x":15,"y":8.4,"lo":8.28,"hi":8.52},
{"p":"avg","s":"PLR, rank, ρ = 0.1","x":16,"y":8.5,"lo":8.38,"hi":8.62},
{"p":"avg","s":"PLR, rank, ρ = 0.1","x":17,"y":8.6,"lo":8.48,"hi":8.72},
{"p":"avg","s":"PLR, rank, ρ = 0.1","x":18,"y":8.75,"lo":8.63,"hi":8.87},
{"p":"avg","s":"PLR, rank, ρ = 0.1","x":19,"y":8.8,"lo":8.68,"hi":8.92},
{"p":"avg","s":"PLR, rank, ρ = 0.1","x":20,"y":8.9,"lo":8.78,"hi":9.02},
{"p":"avg","s":"PLR, rank, ρ = 0.1","x":21,"y":9.0,"lo":8.88,"hi":9.12},
{"p":"avg","s":"PLR, rank, ρ = 0.1","x":22,"y":9.05,"lo":8.93,"hi":9.17},
{"p":"avg","s":"PLR, rank, ρ = 0.1","x":23,"y":9.15,"lo":9.03,"hi":9.27},
{"p":"avg","s":"PLR, rank, ρ = 0.1","x":24,"y":9.25,"lo":9.13,"hi":9.37},
{"p":"avg","s":"PLR, rank, ρ = 0.1","x":25,"y":9.3,"lo":9.18,"hi":9.42},
{"p":"avg","s":"PLR, prop, ρ = 0.1","x":0,"y":1.9,"lo":1.75,"hi":2.05},
{"p":"avg","s":"PLR, prop, ρ = 0.1","x":1,"y":2.5,"lo":2.35,"hi":2.65},
{"p":"avg","s":"PLR, prop, ρ = 0.1","x":2,"y":3.3,"lo":3.15,"hi":3.45},
{"p":"avg","s":"PLR, prop, ρ = 0.1","x":3,"y":4.15,"lo":4.0,"hi":4.3},
{"p":"avg","s":"PLR, prop, ρ = 0.1","x":4,"y":5.0,"lo":4.85,"hi":5.15},
{"p":"avg","s":"PLR, prop, ρ = 0.1","x":5,"y":5.85,"lo":5.7,"hi":6.0},
{"p":"avg","s":"PLR, prop, ρ = 0.1","x":6,"y":6.4,"lo":6.25,"hi":6.55},
{"p":"avg","s":"PLR, prop, ρ = 0.1","x":7,"y":6.85,"lo":6.7,"hi":7.0},
{"p":"avg","s":"PLR, prop, ρ = 0.1","x":8,"y":7.15,"lo":7.0,"hi":7.3},
{"p":"avg","s":"PLR, prop, ρ = 0.1","x":9,"y":7.4,"lo":7.25,"hi":7.55},
{"p":"avg","s":"PLR, prop, ρ = 0.1","x":10,"y":7.6,"lo":7.45,"hi":7.75},
{"p":"avg","s":"PLR, prop, ρ = 0.1","x":11,"y":7.8,"lo":7.65,"hi":7.95},
{"p":"avg","s":"PLR, prop, ρ = 0.1","x":12,"y":7.95,"lo":7.8,"hi":8.1},
{"p":"avg","s":"PLR, prop, ρ = 0.1","x":13,"y":8.1,"lo":7.95,"hi":8.25},
{"p":"avg","s":"PLR, prop, ρ = 0.1","x":14,"y":8.25,"lo":8.1,"hi":8.4},
{"p":"avg","s":"PLR, prop, ρ = 0.1","x":15,"y":8.35,"lo":8.2,"hi":8.5},
{"p":"avg","s":"PLR, prop, ρ = 0.1","x":16,"y":8.45,"lo":8.3,"hi":8.6},
{"p":"avg","s":"PLR, prop, ρ = 0.1","x":17,"y":8.55,"lo":8.4,"hi":8.7},
{"p":"avg","s":"PLR, prop, ρ = 0.1","x":18,"y":8.65,"lo":8.5,"hi":8.8},
{"p":"avg","s":"PLR, prop, ρ = 0.1","x":19,"y":8.7,"lo":8.55,"hi":8.85},
{"p":"avg","s":"PLR, prop, ρ = 0.1","x":20,"y":8.8,"lo":8.65,"hi":8.95},
{"p":"avg","s":"PLR, prop, ρ = 0.1","x":21,"y":8.85,"lo":8.7,"hi":9.0},
{"p":"avg","s":"PLR, prop, ρ = 0.1","x":22,"y":8.9,"lo":8.75,"hi":9.05},
{"p":"avg","s":"PLR, prop, ρ = 0.1","x":23,"y":8.95,"lo":8.8,"hi":9.1},
{"p":"avg","s":"PLR, prop, ρ = 0.1","x":24,"y":9.0,"lo":8.85,"hi":9.15},
{"p":"avg","s":"PLR, prop, ρ = 0.1","x":25,"y":9.05,"lo":8.9,"hi":9.2},
{"p":"avg","s":"PLR, ρ = 1.0","x":0,"y":1.75,"lo":1.65,"hi":1.85},
{"p":"avg","s":"PLR, ρ = 1.0","x":1,"y":2.7,"lo":2.6,"hi":2.8},
{"p":"avg","s":"PLR, ρ = 1.0","x":2,"y":3.4,"lo":3.3,"hi":3.5},
{"p":"avg","s":"PLR, ρ = 1.0","x":3,"y":4.05,"lo":3.95,"hi":4.15},
{"p":"avg","s":"PLR, ρ = 1.0","x":4,"y":4.8,"lo":4.7,"hi":4.9},
{"p":"avg","s":"PLR, ρ = 1.0","x":5,"y":5.2,"lo":5.1,"hi":5.3},
{"p":"avg","s":"PLR, ρ = 1.0","x":6,"y":5.65,"lo":5.55,"hi":5.75},
{"p":"avg","s":"PLR, ρ = 1.0","x":7,"y":5.9,"lo":5.8,"hi":6.0},
{"p":"avg","s":"PLR, ρ = 1.0","x":8,"y":6.15,"lo":6.05,"hi":6.25},
{"p":"avg","s":"PLR, ρ = 1.0","x":9,"y":6.35,"lo":6.25,"hi":6.45},
{"p":"avg","s":"PLR, ρ = 1.0","x":10,"y":6.5,"lo":6.4,"hi":6.6},
{"p":"avg","s":"PLR, ρ = 1.0","x":11,"y":6.65,"lo":6.55,"hi":6.75},
{"p":"avg","s":"PLR, ρ = 1.0","x":12,"y":6.85,"lo":6.75,"hi":6.95},
{"p":"avg","s":"PLR, ρ = 1.0","x":13,"y":6.95,"lo":6.85,"hi":7.05},
{"p":"avg","s":"PLR, ρ = 1.0","x":14,"y":7.05,"lo":6.95,"hi":7.15},
{"p":"avg","s":"PLR, ρ = 1.0","x":15,"y":7.15,"lo":7.05,"hi":7.25},
{"p":"avg","s":"PLR, ρ = 1.0","x":16,"y":7.2,"lo":7.1,"hi":7.3},
{"p":"avg","s":"PLR, ρ = 1.0","x":17,"y":7.35,"lo":7.25,"hi":7.45},
{"p":"avg","s":"PLR, ρ = 1.0","x":18,"y":7.45,"lo":7.35,"hi":7.55},
{"p":"avg","s":"PLR, ρ = 1.0","x":19,"y":7.55,"lo":7.45,"hi":7.65},
{"p":"avg","s":"PLR, ρ = 1.0","x":20,"y":7.65,"lo":7.55,"hi":7.75},
{"p":"avg","s":"PLR, ρ = 1.0","x":21,"y":7.55,"lo":7.45,"hi":7.65},
{"p":"avg","s":"PLR, ρ = 1.0","x":22,"y":7.7,"lo":7.6,"hi":7.8},
{"p":"avg","s":"PLR, ρ = 1.0","x":23,"y":7.75,"lo":7.65,"hi":7.85},
{"p":"avg","s":"PLR, ρ = 1.0","x":24,"y":7.8,"lo":7.7,"hi":7.9},
{"p":"avg","s":"PLR, ρ = 1.0","x":25,"y":7.95,"lo":7.85,"hi":8.05},
{"p":"avg","s":"PLR, ρ = 0.0","x":0,"y":1.75,"lo":1.63,"hi":1.87},
{"p":"avg","s":"PLR, ρ = 0.0","x":1,"y":2.55,"lo":2.43,"hi":2.67},
{"p":"avg","s":"PLR, ρ = 0.0","x":2,"y":2.75,"lo":2.63,"hi":2.87},
{"p":"avg","s":"PLR, ρ = 0.0","x":3,"y":3.1,"lo":2.98,"hi":3.22},
{"p":"avg","s":"PLR, ρ = 0.0","x":4,"y":3.4,"lo":3.28,"hi":3.52},
{"p":"avg","s":"PLR, ρ = 0.0","x":5,"y":3.75,"lo":3.63,"hi":3.87},
{"p":"avg","s":"PLR, ρ = 0.0","x":6,"y":4.1,"lo":3.98,"hi":4.22},
{"p":"avg","s":"PLR, ρ = 0.0","x":7,"y":4.4,"lo":4.28,"hi":4.52},
{"p":"avg","s":"PLR, ρ = 0.0","x":8,"y":4.7,"lo":4.58,"hi":4.82},
{"p":"avg","s":"PLR, ρ = 0.0","x":9,"y":4.85,"lo":4.73,"hi":4.97},
{"p":"avg","s":"PLR, ρ = 0.0","x":10,"y":5.0,"lo":4.88,"hi":5.12},
{"p":"avg","s":"PLR, ρ = 0.0","x":11,"y":5.05,"lo":4.93,"hi":5.17},
{"p":"avg","s":"PLR, ρ = 0.0","x":12,"y":5.15,"lo":5.03,"hi":5.27},
{"p":"avg","s":"PLR, ρ = 0.0","x":13,"y":5.3,"lo":5.18,"hi":5.42},
{"p":"avg","s":"PLR, ρ = 0.0","x":14,"y":5.25,"lo":5.13,"hi":5.37},
{"p":"avg","s":"PLR, ρ = 0.0","x":15,"y":5.4,"lo":5.28,"hi":5.52},
{"p":"avg","s":"PLR, ρ = 0.0","x":16,"y":5.4,"lo":5.28,"hi":5.52},
{"p":"avg","s":"PLR, ρ = 0.0","x":17,"y":5.45,"lo":5.33,"hi":5.57},
{"p":"avg","s":"PLR, ρ = 0.0","x":18,"y":5.35,"lo":5.23,"hi":5.47},
{"p":"avg","s":"PLR, ρ = 0.0","x":19,"y":5.3,"lo":5.18,"hi":5.42},
{"p":"avg","s":"PLR, ρ = 0.0","x":20,"y":5.35,"lo":5.23,"hi":5.47},
{"p":"avg","s":"PLR, ρ = 0.0","x":21,"y":5.4,"lo":5.28,"hi":5.52},
{"p":"avg","s":"PLR, ρ = 0.0","x":22,"y":5.45,"lo":5.33,"hi":5.57},
{"p":"avg","s":"PLR, ρ = 0.0","x":23,"y":5.45,"lo":5.33,"hi":5.57},
{"p":"avg","s":"PLR, ρ = 0.0","x":24,"y":5.5,"lo":5.38,"hi":5.62},
{"p":"avg","s":"PLR, ρ = 0.0","x":24.7,"y":5.6,"lo":5.48,"hi":5.72},
{"p":"avg","s":"PLR, 1-step TD error","x":0,"y":1.9,"lo":1.7,"hi":2.1},
{"p":"avg","s":"PLR, 1-step TD error","x":1,"y":2.5,"lo":2.3,"hi":2.7},
{"p":"avg","s":"PLR, 1-step TD error","x":2,"y":3.35,"lo":3.15,"hi":3.55},
{"p":"avg","s":"PLR, 1-step TD error","x":3,"y":4.2,"lo":4.0,"hi":4.4},
{"p":"avg","s":"PLR, 1-step TD error","x":4,"y":5.05,"lo":4.85,"hi":5.25},
{"p":"avg","s":"PLR, 1-step TD error","x":5,"y":5.85,"lo":5.65,"hi":6.05},
{"p":"avg","s":"PLR, 1-step TD error","x":6,"y":6.4,"lo":6.2,"hi":6.6},
{"p":"avg","s":"PLR, 1-step TD error","x":7,"y":6.85,"lo":6.65,"hi":7.05},
{"p":"avg","s":"PLR, 1-step TD error","x":8,"y":7.2,"lo":7.0,"hi":7.4},
{"p":"avg","s":"PLR, 1-step TD error","x":9,"y":7.45,"lo":7.25,"hi":7.65},
{"p":"avg","s":"PLR, 1-step TD error","x":10,"y":7.6,"lo":7.4,"hi":7.8},
{"p":"avg","s":"PLR, 1-step TD error","x":11,"y":7.8,"lo":7.6,"hi":8.0},
{"p":"avg","s":"PLR, 1-step TD error","x":12,"y":7.95,"lo":7.75,"hi":8.15},
{"p":"avg","s":"PLR, 1-step TD error","x":13,"y":8.1,"lo":7.9,"hi":8.3},
{"p":"avg","s":"PLR, 1-step TD error","x":14,"y":8.25,"lo":8.05,"hi":8.45},
{"p":"avg","s":"PLR, 1-step TD error","x":15,"y":8.4,"lo":8.2,"hi":8.6},
{"p":"avg","s":"PLR, 1-step TD error","x":16,"y":8.5,"lo":8.3,"hi":8.7},
{"p":"avg","s":"PLR, 1-step TD error","x":17,"y":8.55,"lo":8.35,"hi":8.75},
{"p":"avg","s":"PLR, 1-step TD error","x":18,"y":8.65,"lo":8.45,"hi":8.85},
{"p":"avg","s":"PLR, 1-step TD error","x":19,"y":8.7,"lo":8.5,"hi":8.9},
{"p":"avg","s":"PLR, 1-step TD error","x":20,"y":8.8,"lo":8.6,"hi":9.0},
{"p":"avg","s":"PLR, 1-step TD error","x":21,"y":8.85,"lo":8.65,"hi":9.05},
{"p":"avg","s":"PLR, 1-step TD error","x":22,"y":8.9,"lo":8.7,"hi":9.1},
{"p":"avg","s":"PLR, 1-step TD error","x":23,"y":8.95,"lo":8.75,"hi":9.15},
{"p":"avg","s":"PLR, 1-step TD error","x":24,"y":9.0,"lo":8.8,"hi":9.2},
{"p":"avg","s":"PLR, 1-step TD error","x":25,"y":9.05,"lo":8.85,"hi":9.25},
{"p":"gap","s":"uniform","x":0,"y":-0.22,"lo":-0.62,"hi":0.18},
{"p":"gap","s":"uniform","x":1,"y":0.25,"lo":-0.05,"hi":0.55},
{"p":"gap","s":"uniform","x":2,"y":0.5,"lo":0.2,"hi":0.8},
{"p":"gap","s":"uniform","x":3,"y":0.73,"lo":0.38,"hi":1.08},
{"p":"gap","s":"uniform","x":4,"y":0.8,"lo":0.4,"hi":1.2},
{"p":"gap","s":"uniform","x":5,"y":0.83,"lo":0.43,"hi":1.23},
{"p":"gap","s":"uniform","x":6,"y":0.92,"lo":0.52,"hi":1.32},
{"p":"gap","s":"uniform","x":7,"y":1.1,"lo":0.75,"hi":1.45},
{"p":"gap","s":"uniform","x":8,"y":1.27,"lo":0.97,"hi":1.57},
{"p":"gap","s":"uniform","x":9,"y":1.4,"lo":1.1,"hi":1.7},
{"p":"gap","s":"uniform","x":10,"y":1.55,"lo":1.25,"hi":1.85},
{"p":"gap","s":"uniform","x":11,"y":1.6,"lo":1.3,"hi":1.9},
{"p":"gap","s":"uniform","x":12,"y":1.68,"lo":1.38,"hi":1.98},
{"p":"gap","s":"uniform","x":13,"y":1.8,"lo":1.5,"hi":2.1},
{"p":"gap","s":"uniform","x":14,"y":1.87,"lo":1.57,"hi":2.17},
{"p":"gap","s":"uniform","x":15,"y":1.95,"lo":1.65,"hi":2.25},
{"p":"gap","s":"uniform","x":16,"y":2.05,"lo":1.75,"hi":2.35},
{"p":"gap","s":"uniform","x":17,"y":2.12,"lo":1.82,"hi":2.42},
{"p":"gap","s":"uniform","x":18,"y":2.2,"lo":1.9,"hi":2.5},
{"p":"gap","s":"uniform","x":19,"y":2.25,"lo":1.95,"hi":2.55},
{"p":"gap","s":"uniform","x":20,"y":2.32,"lo":2.02,"hi":2.62},
{"p":"gap","s":"uniform","x":21,"y":2.35,"lo":2.05,"hi":2.65},
{"p":"gap","s":"uniform","x":22,"y":2.38,"lo":2.08,"hi":2.68},
{"p":"gap","s":"uniform","x":23,"y":2.38,"lo":2.08,"hi":2.68},
{"p":"gap","s":"uniform","x":24,"y":2.42,"lo":2.07,"hi":2.77},
{"p":"gap","s":"uniform","x":25,"y":2.5,"lo":2.15,"hi":2.85},
{"p":"gap","s":"PLR, rank, ρ = 0.1","x":0,"y":-0.05,"lo":-0.2,"hi":0.1},
{"p":"gap","s":"PLR, rank, ρ = 0.1","x":1,"y":0.1,"lo":-0.05,"hi":0.25},
{"p":"gap","s":"PLR, rank, ρ = 0.1","x":2,"y":0.16,"lo":0.0,"hi":0.32},
{"p":"gap","s":"PLR, rank, ρ = 0.1","x":3,"y":0.25,"lo":0.07,"hi":0.43},
{"p":"gap","s":"PLR, rank, ρ = 0.1","x":4,"y":0.35,"lo":0.15,"hi":0.55},
{"p":"gap","s":"PLR, rank, ρ = 0.1","x":5,"y":0.45,"lo":0.25,"hi":0.65},
{"p":"gap","s":"PLR, rank, ρ = 0.1","x":6,"y":0.5,"lo":0.3,"hi":0.7},
{"p":"gap","s":"PLR, rank, ρ = 0.1","x":7,"y":0.6,"lo":0.4,"hi":0.8},
{"p":"gap","s":"PLR, rank, ρ = 0.1","x":8,"y":0.7,"lo":0.5,"hi":0.9},
{"p":"gap","s":"PLR, rank, ρ = 0.1","x":9,"y":0.83,"lo":0.63,"hi":1.03},
{"p":"gap","s":"PLR, rank, ρ = 0.1","x":10,"y":0.9,"lo":0.7,"hi":1.1},
{"p":"gap","s":"PLR, rank, ρ = 0.1","x":11,"y":0.92,"lo":0.72,"hi":1.12},
{"p":"gap","s":"PLR, rank, ρ = 0.1","x":12,"y":0.98,"lo":0.78,"hi":1.18},
{"p":"gap","s":"PLR, rank, ρ = 0.1","x":13,"y":1.05,"lo":0.85,"hi":1.25},
{"p":"gap","s":"PLR, rank, ρ = 0.1","x":14,"y":1.15,"lo":0.95,"hi":1.35},
{"p":"gap","s":"PLR, rank, ρ = 0.1","x":15,"y":1.17,"lo":0.97,"hi":1.37},
{"p":"gap","s":"PLR, rank, ρ = 0.1","x":16,"y":1.2,"lo":1.0,"hi":1.4},
{"p":"gap","s":"PLR, rank, ρ = 0.1","x":17,"y":1.2,"lo":1.0,"hi":1.4},
{"p":"gap","s":"PLR, rank, ρ = 0.1","x":18,"y":1.24,"lo":1.04,"hi":1.44},
{"p":"gap","s":"PLR, rank, ρ = 0.1","x":19,"y":1.33,"lo":1.13,"hi":1.53},
{"p":"gap","s":"PLR, rank, ρ = 0.1","x":20,"y":1.46,"lo":1.26,"hi":1.66},
{"p":"gap","s":"PLR, rank, ρ = 0.1","x":21,"y":1.5,"lo":1.3,"hi":1.7},
{"p":"gap","s":"PLR, rank, ρ = 0.1","x":22,"y":1.52,"lo":1.32,"hi":1.72},
{"p":"gap","s":"PLR, rank, ρ = 0.1","x":23,"y":1.5,"lo":1.3,"hi":1.7},
{"p":"gap","s":"PLR, rank, ρ = 0.1","x":24,"y":1.5,"lo":1.3,"hi":1.7},
{"p":"gap","s":"PLR, rank, ρ = 0.1","x":25,"y":1.49,"lo":1.29,"hi":1.69},
{"p":"gap","s":"PLR, prop, ρ = 0.1","x":0,"y":0.0,"lo":-0.1,"hi":0.1},
{"p":"gap","s":"PLR, prop, ρ = 0.1","x":1,"y":0.25,"lo":0.1,"hi":0.4},
{"p":"gap","s":"PLR, prop, ρ = 0.1","x":2,"y":0.38,"lo":0.23,"hi":0.53},
{"p":"gap","s":"PLR, prop, ρ = 0.1","x":3,"y":0.45,"lo":0.3,"hi":0.6},
{"p":"gap","s":"PLR, prop, ρ = 0.1","x":4,"y":0.5,"lo":0.33,"hi":0.67},
{"p":"gap","s":"PLR, prop, ρ = 0.1","x":5,"y":0.63,"lo":0.45,"hi":0.81},
{"p":"gap","s":"PLR, prop, ρ = 0.1","x":6,"y":0.73,"lo":0.55,"hi":0.91},
{"p":"gap","s":"PLR, prop, ρ = 0.1","x":7,"y":0.83,"lo":0.63,"hi":1.03},
{"p":"gap","s":"PLR, prop, ρ = 0.1","x":8,"y":0.92,"lo":0.72,"hi":1.12},
{"p":"gap","s":"PLR, prop, ρ = 0.1","x":9,"y":1.05,"lo":0.85,"hi":1.25},
{"p":"gap","s":"PLR, prop, ρ = 0.1","x":10,"y":1.15,"lo":0.95,"hi":1.35},
{"p":"gap","s":"PLR, prop, ρ = 0.1","x":11,"y":1.2,"lo":1.0,"hi":1.4},
{"p":"gap","s":"PLR, prop, ρ = 0.1","x":12,"y":1.33,"lo":1.13,"hi":1.53},
{"p":"gap","s":"PLR, prop, ρ = 0.1","x":13,"y":1.4,"lo":1.2,"hi":1.6},
{"p":"gap","s":"PLR, prop, ρ = 0.1","x":14,"y":1.43,"lo":1.23,"hi":1.63},
{"p":"gap","s":"PLR, prop, ρ = 0.1","x":15,"y":1.5,"lo":1.3,"hi":1.7},
{"p":"gap","s":"PLR, prop, ρ = 0.1","x":16,"y":1.55,"lo":1.35,"hi":1.75},
{"p":"gap","s":"PLR, prop, ρ = 0.1","x":17,"y":1.6,"lo":1.4,"hi":1.8},
{"p":"gap","s":"PLR, prop, ρ = 0.1","x":18,"y":1.55,"lo":1.35,"hi":1.75},
{"p":"gap","s":"PLR, prop, ρ = 0.1","x":19,"y":1.65,"lo":1.43,"hi":1.87},
{"p":"gap","s":"PLR, prop, ρ = 0.1","x":20,"y":1.72,"lo":1.5,"hi":1.94},
{"p":"gap","s":"PLR, prop, ρ = 0.1","x":21,"y":1.68,"lo":1.46,"hi":1.9},
{"p":"gap","s":"PLR, prop, ρ = 0.1","x":22,"y":1.75,"lo":1.5,"hi":2.0},
{"p":"gap","s":"PLR, prop, ρ = 0.1","x":23,"y":1.8,"lo":1.55,"hi":2.05},
{"p":"gap","s":"PLR, prop, ρ = 0.1","x":24,"y":1.9,"lo":1.65,"hi":2.15},
{"p":"gap","s":"PLR, prop, ρ = 0.1","x":25,"y":2.0,"lo":1.72,"hi":2.28},
{"p":"gap","s":"PLR, 1-step TD error","x":0,"y":0.05,"lo":-0.1,"hi":0.2},
{"p":"gap","s":"PLR, 1-step TD error","x":1,"y":0.1,"lo":-0.05,"hi":0.25},
{"p":"gap","s":"PLR, 1-step TD error","x":2,"y":0.12,"lo":-0.05,"hi":0.29},
{"p":"gap","s":"PLR, 1-step TD error","x":3,"y":0.2,"lo":0.02,"hi":0.38},
{"p":"gap","s":"PLR, 1-step TD error","x":4,"y":0.28,"lo":0.08,"hi":0.48},
{"p":"gap","s":"PLR, 1-step TD error","x":5,"y":0.38,"lo":0.18,"hi":0.58},
{"p":"gap","s":"PLR, 1-step TD error","x":6,"y":0.45,"lo":0.25,"hi":0.65},
{"p":"gap","s":"PLR, 1-step TD error","x":7,"y":0.54,"lo":0.34,"hi":0.74},
{"p":"gap","s":"PLR, 1-step TD error","x":8,"y":0.57,"lo":0.37,"hi":0.77},
{"p":"gap","s":"PLR, 1-step TD error","x":9,"y":0.7,"lo":0.5,"hi":0.9},
{"p":"gap","s":"PLR, 1-step TD error","x":10,"y":0.76,"lo":0.56,"hi":0.96},
{"p":"gap","s":"PLR, 1-step TD error","x":11,"y":0.86,"lo":0.66,"hi":1.06},
{"p":"gap","s":"PLR, 1-step TD error","x":12,"y":0.95,"lo":0.75,"hi":1.15},
{"p":"gap","s":"PLR, 1-step TD error","x":13,"y":1.05,"lo":0.85,"hi":1.25},
{"p":"gap","s":"PLR, 1-step TD error","x":14,"y":1.17,"lo":0.97,"hi":1.37},
{"p":"gap","s":"PLR, 1-step TD error","x":15,"y":1.24,"lo":1.04,"hi":1.44},
{"p":"gap","s":"PLR, 1-step TD error","x":16,"y":1.27,"lo":1.07,"hi":1.47},
{"p":"gap","s":"PLR, 1-step TD error","x":17,"y":1.3,"lo":1.1,"hi":1.5},
{"p":"gap","s":"PLR, 1-step TD error","x":18,"y":1.33,"lo":1.13,"hi":1.53},
{"p":"gap","s":"PLR, 1-step TD error","x":19,"y":1.43,"lo":1.23,"hi":1.63},
{"p":"gap","s":"PLR, 1-step TD error","x":20,"y":1.52,"lo":1.32,"hi":1.72},
{"p":"gap","s":"PLR, 1-step TD error","x":21,"y":1.52,"lo":1.32,"hi":1.72},
{"p":"gap","s":"PLR, 1-step TD error","x":22,"y":1.55,"lo":1.35,"hi":1.75},
{"p":"gap","s":"PLR, 1-step TD error","x":23,"y":1.62,"lo":1.42,"hi":1.82},
{"p":"gap","s":"PLR, 1-step TD error","x":24,"y":1.68,"lo":1.48,"hi":1.88},
{"p":"gap","s":"PLR, 1-step TD error","x":25,"y":1.75,"lo":1.55,"hi":1.95}
]},
"columns":2,
"spacing":{"row":37,"column":76},
"bounds":"flush",
"resolve":{"scale":{"color":"independent","fill":"independent"}},
"concat":[
  {"width":209,"height":206,"title":{"text":"bigfish","offset":-5},
   "transform":[{"filter":"datum.p === 'bigfish'"}],
   "layer":[
    {"mark":{"type":"area","opacity":0.11},
     "encoding":{
      "x":{"field":"x","type":"quantitative","scale":{"domain":[-1.25,26.25],"nice":false,"zero":false},"axis":{"values":[0,10,20],"labels":false,"title":null}},
      "y":{"field":"lo","type":"quantitative","scale":{"domain":[-0.62,15.47],"nice":false,"zero":false},"axis":{"values":[0,5,10,15],"title":"Mean test return"}},
      "y2":{"field":"hi"},
      "fill":{"field":"s","type":"nominal","legend":null,"scale":{"domain":["L1 value loss","1-step TD error","GAE","policy entropy","min margin","least confidence","uniform"],"range":["#F468B0","#CF77F0","#3BA4E8","#35ABA3","#33B05F","#A5A23A","#E2873A"]}}}},
    {"mark":{"type":"line","strokeWidth":2},
     "encoding":{
      "x":{"field":"x","type":"quantitative"},
      "y":{"field":"y","type":"quantitative","axis":{"values":[0,5,10,15],"title":"Mean test return"}},
      "color":{"field":"s","type":"nominal","legend":null,"scale":{"domain":["uniform","least confidence","min margin","policy entropy","GAE","1-step TD error","L1 value loss"],"range":["#E2873A","#A5A23A","#33B05F","#35ABA3","#3BA4E8","#CF77F0","#F468B0"]}}}}
   ]},
  {"width":202,"height":206,"title":{"text":"ninja","offset":0},
   "transform":[{"filter":"datum.p === 'ninja'"}],
   "layer":[
    {"mark":{"type":"area","opacity":0.11},
     "encoding":{
      "x":{"field":"x","type":"quantitative","scale":{"domain":[-1.2,25.2],"nice":false,"zero":false},"axis":{"values":[0,10,20],"labels":false,"title":null}},
      "y":{"field":"lo","type":"quantitative","scale":{"domain":[-0.49,7.92],"nice":false,"zero":false},"axis":{"values":[0,2,4,6],"title":"Mean test return"}},
      "y2":{"field":"hi"},
      "fill":{"field":"s","type":"nominal","legend":null,"scale":{"domain":["L1 value loss","1-step TD error","GAE","policy entropy","min margin","least confidence","uniform"],"range":["#F468B0","#CF77F0","#3BA4E8","#35ABA3","#33B05F","#A5A23A","#E2873A"]}}}},
    {"mark":{"type":"line","strokeWidth":2},
     "encoding":{
      "x":{"field":"x","type":"quantitative"},
      "y":{"field":"y","type":"quantitative","axis":{"values":[0,2,4,6],"title":"Mean test return"}},
      "color":{"field":"s","type":"nominal","scale":{"domain":["uniform","least confidence","min margin","policy entropy","GAE","1-step TD error","L1 value loss"],"range":["#E2873A","#A5A23A","#33B05F","#35ABA3","#3BA4E8","#CF77F0","#F468B0"]},"legend":{"orient":"none","legendX":216,"legendY":6.5,"clipHeight":27,"rowPadding":0,"title":null}}}}
   ]},
  {"width":209,"height":213,"title":{"text":"all averaged","offset":-4},
   "transform":[{"filter":"datum.p === 'avg'"}],
   "layer":[
    {"mark":{"type":"area","opacity":0.11},
     "encoding":{
      "x":{"field":"x","type":"quantitative","scale":{"domain":[-1.25,26.25],"nice":false,"zero":false},"axis":{"values":[0,10,20],"labelExpr":"datum.value == 0 ? '0' : datum.value + 'M'","title":"Steps","titleX":237,"titleY":50,"titleBaseline":"alphabetic"}},
      "y":{"field":"lo","type":"quantitative","scale":{"domain":[0.67,9.87],"nice":false,"zero":false},"axis":{"values":[2,4,6,8],"title":"Mean test return"}},
      "y2":{"field":"hi"},
      "fill":{"field":"s","type":"nominal","legend":null,"scale":{"domain":["PLR, 1-step TD error","PLR, ρ = 0.0","PLR, ρ = 1.0","PLR, prop, ρ = 0.1","PLR, rank, ρ = 0.1","uniform"],"range":["#C974EF","#F5312F","#7FA638","#30AF9B","#F066C8","#E2873A"]}}}},
    {"mark":{"type":"line","strokeWidth":2},
     "encoding":{
      "x":{"field":"x","type":"quantitative"},
      "y":{"field":"y","type":"quantitative","axis":{"values":[2,4,6,8],"title":"Mean test return"}},
      "color":{"field":"s","type":"nominal","legend":null,"scale":{"domain":["uniform","PLR, rank, ρ = 0.1","PLR, prop, ρ = 0.1","PLR, ρ = 1.0","PLR, ρ = 0.0","PLR, 1-step TD error"],"range":["#E2873A","#F066C8","#30AF9B","#7FA638","#F5312F","#C974EF"]}}}}
   ]},
  {"width":210,"height":213,"title":{"text":"all averaged","offset":-6},
   "transform":[{"filter":"datum.p === 'gap'"}],
   "layer":[
    {"mark":{"type":"area","opacity":0.11},
     "encoding":{
      "x":{"field":"x","type":"quantitative","scale":{"domain":[-1.2,26.25],"nice":false,"zero":false},"axis":{"values":[0,10,20],"labelExpr":"datum.value == 0 ? '0' : datum.value + 'M'","title":null}},
      "y":{"field":"lo","type":"quantitative","scale":{"domain":[-1.07,2.98],"nice":false,"zero":false},"axis":{"values":[0,1,2],"title":"Mean generalization gap"}},
      "y2":{"field":"hi"},
      "fill":{"field":"s","type":"nominal","legend":null,"scale":{"domain":["PLR, 1-step TD error","PLR, ρ = 0.0","PLR, ρ = 1.0","PLR, prop, ρ = 0.1","PLR, rank, ρ = 0.1","uniform"],"range":["#C974EF","#F5312F","#7FA638","#30AF9B","#F066C8","#E2873A"]}}}},
    {"mark":{"type":"line","strokeWidth":2},
     "encoding":{
      "x":{"field":"x","type":"quantitative"},
      "y":{"field":"y","type":"quantitative","axis":{"values":[0,1,2],"title":"Mean generalization gap"}},
      "color":{"field":"s","type":"nominal","scale":{"domain":["uniform","PLR, rank, ρ = 0.1","PLR, prop, ρ = 0.1","PLR, ρ = 1.0","PLR, ρ = 0.0","PLR, 1-step TD error"],"range":["#E2873A","#F066C8","#30AF9B","#7FA638","#F5312F","#C974EF"]},"legend":{"orient":"none","legendX":212,"legendY":28,"clipHeight":27.5,"rowPadding":0,"title":null}}}}
   ]}
]
}
